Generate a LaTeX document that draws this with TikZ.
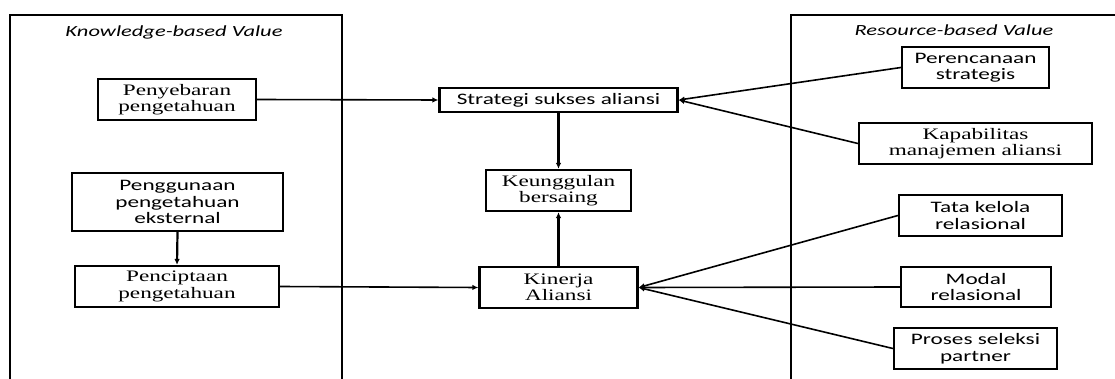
\documentclass[tikz,border=0pt]{standalone}
\usepackage{fontspec}
\newfontfamily\tnr{Liberation Serif}[FakeStretch=1.45]
\newfontfamily\calib{Carlito}[FakeStretch=1.45]
\usetikzlibrary{arrows.meta}
\begin{document}
\begin{tikzpicture}[x=1pt,y=-1pt,
  box/.style={draw,line width=2.2pt,inner sep=0pt,align=center,
    font=\tnr\fontsize{16}{16.5}\selectfont},
  sbox/.style={box,font=\calib\fontsize{16}{16.5}\selectfont},
  conn/.style={line width=1.6pt,-{Latex[length=6pt,width=5.5pt]}},
  vconn/.style={conn,line width=2.2pt},
  frame/.style={line width=2.2pt},
  ttl/.style={inner sep=0pt,font=\calib\itshape\fontsize{15.5}{16}\selectfont}]
\useasboundingbox (0,0) rectangle (1115,379);
% containers
\draw[frame] (10,379) -- (10,15) -- (342,15) -- (342,379);
\draw[frame] (791,379) -- (791,15) -- (1115,15);
\node[ttl] (tk) at (174,32) {Knowledge-based Value};
\node[ttl] (tr) at (954,30) {Resource-based Value};
% left boxes
\node[box,minimum width=158pt,minimum height=41pt] (pen) at (177,99.5) {Penyebaran\\pengetahuan};
\node[sbox,minimum width=211pt,minimum height=58pt] (gun) at (177.5,202) {Penggunaan\\pengetahuan\\eksternal};
\node[box,minimum width=204pt,minimum height=41pt] (cip) at (177,286.5) {Penciptaan\\pengetahuan};
% middle boxes
\node[sbox,minimum width=238pt,minimum height=24pt] (str) at (558.5,100) {Strategi sukses aliansi};
\node[box,minimum width=145pt,minimum height=41pt] (keu) at (558.5,190.5) {Keunggulan\\bersaing};
\node[box,minimum width=158pt,minimum height=41pt] (kin) at (558.5,287.5) {Kinerja\\Aliansi};
% right boxes
\node[sbox,minimum width=147pt,minimum height=41pt] (per) at (975.5,67.5) {Perencanaan\\strategis};
\node[box,minimum width=233pt,minimum height=41pt] (kap) at (975.5,143.5) {Kapabilitas\\manajemen aliansi};
\node[sbox,minimum width=163pt,minimum height=41pt] (tat) at (980.5,215.5) {Tata kelola\\relasional};
\node[sbox,minimum width=150pt,minimum height=40pt] (mod) at (976,287) {Modal\\relasional};
\node[sbox,minimum width=163pt,minimum height=41pt] (pro) at (975.5,348.5) {Proses seleksi\\partner};
% connectors
\draw[conn] (pen.east) -- (str.west);
\draw[vconn] (gun.south) -- (cip.north);
\draw[conn] (cip.east) -- (kin.west);
\draw[vconn] (str.south) -- (keu.north);
\draw[vconn] (kin.north) -- (keu.south);
\draw[conn] (per.west) -- (str.east);
\draw[conn] (kap.west) -- (str.east);
\draw[conn] (tat.west) -- (kin.east);
\draw[conn] (mod.west) -- (kin.east);
\draw[conn] (pro.west) -- (kin.east);
\end{tikzpicture}
\end{document}
